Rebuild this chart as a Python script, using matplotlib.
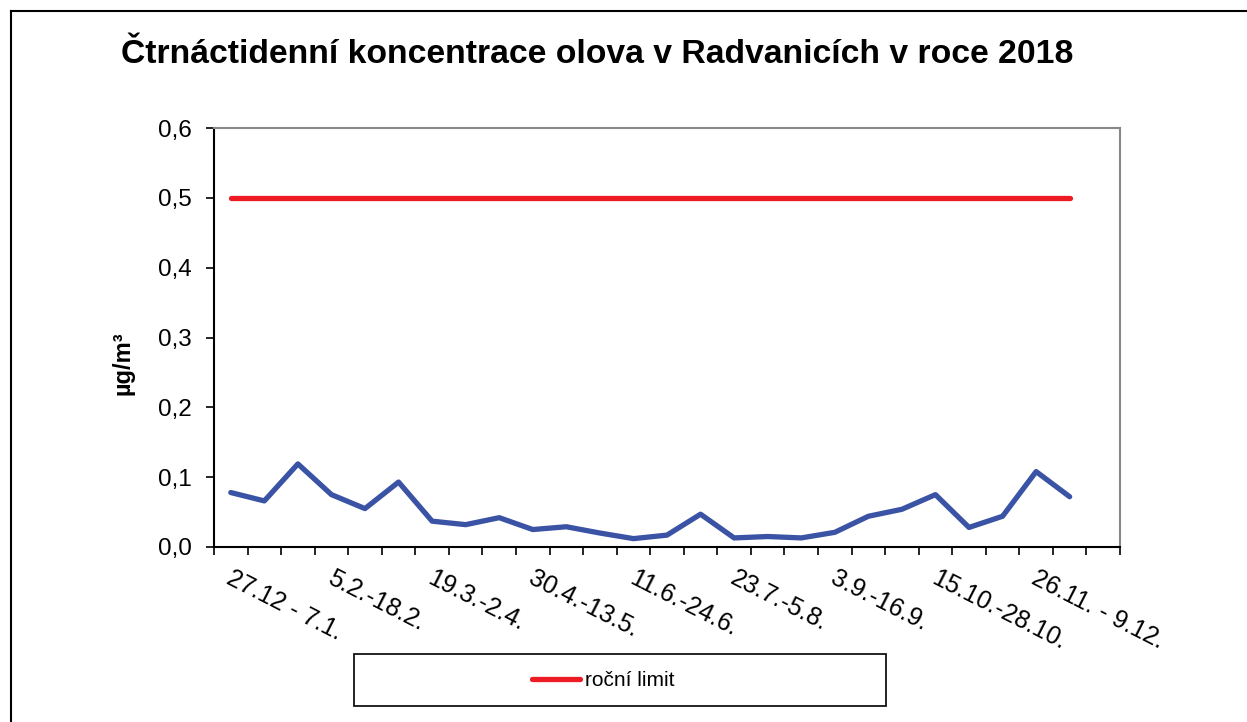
import matplotlib

matplotlib.use("Agg")
import matplotlib.pyplot as plt
from matplotlib.lines import Line2D
from matplotlib.patches import Rectangle
from matplotlib.ticker import FixedLocator, FuncFormatter
import matplotlib.transforms as mtransforms

plt.rcParams["font.family"] = ["Liberation Sans", "DejaVu Sans"]

# fourteen-day lead concentrations, ug/m3 (26 periods, 27 category slots on the axis)
lead = [0.078, 0.066, 0.119, 0.075, 0.055, 0.093, 0.037, 0.032, 0.042, 0.025,
        0.029, 0.020, 0.012, 0.017, 0.047, 0.013, 0.015, 0.013, 0.021, 0.044,
        0.054, 0.075, 0.028, 0.044, 0.108, 0.072]
limit = [0.5] * len(lead)
n_slots = 27
period_labels = ["27.12 - 7.1.", "5.2.-18.2.", "19.3.-2.4.", "30.4.-13.5.", "11.6.-24.6.",
                 "23.7.-5.8.", "3.9.-16.9.", "15.10.-28.10.", "26.11. - 9.12."]
label_every = 3

W, H, DPI = 1247, 722, 100
PX = 72 / DPI  # points per pixel
fig = plt.figure(figsize=(W / DPI, H / DPI), dpi=DPI)
ax = fig.add_axes([214 / W, 1 - 547 / H, (1120 - 214) / W, (547 - 128) / H])

x = list(range(len(lead)))
ax.plot(x, limit, color="#ED1C24", linewidth=3.8, solid_capstyle="round", label="roční limit")
ax.plot(x, lead, color="#3A53A4", linewidth=3.8, solid_capstyle="round")

ax.set_xlim(-0.5, n_slots - 0.5)
ax.set_ylim(0, 0.6)
ax.set_yticks([0, 0.1, 0.2, 0.3, 0.4, 0.5, 0.6])
ax.yaxis.set_major_formatter(FuncFormatter(lambda v, _: f"{v:.1f}".replace(".", ",")))

# category boundaries get the tick marks, labelled slots get text only
ax.xaxis.set_major_locator(FixedLocator([i - 0.5 for i in range(n_slots + 1)]))
ax.xaxis.set_major_formatter(FuncFormatter(lambda v, _: ""))
ax.set_xticks(list(range(0, n_slots, label_every)), period_labels, minor=True)
ax.tick_params(axis="x", which="major", direction="out", length=8 * PX, width=1.2, color="black")
ax.tick_params(axis="x", which="minor", length=0, pad=19 * PX, labelsize=18)
ax.tick_params(axis="y", direction="out", length=8 * PX, width=1.2, labelsize=17.5,
               pad=14 * PX)

offset = mtransforms.ScaledTranslation(3 / DPI, 0, fig.dpi_scale_trans)
for lab in ax.get_xticklabels(minor=True):
    lab.set_rotation(-27)
    lab.set_rotation_mode("anchor")
    lab.set_ha("left")
    lab.set_va("top")
    lab.set_transform(lab.get_transform() + offset)

for side in ("top", "right"):
    ax.spines[side].set_color("#888888")
    ax.spines[side].set_linewidth(1.5)
for side in ("left", "bottom"):
    ax.spines[side].set_color("black")
    ax.spines[side].set_linewidth(1.5)

ax.set_ylabel("µg/m³", fontsize=17, fontweight="bold")
ax.yaxis.set_label_coords((123 - 214) / (1120 - 214), (547 - 363) / (547 - 128))
ax.yaxis.label.set_verticalalignment("center")

fig.text(597 / W, 1 - 63 / H, "Čtrnáctidenní koncentrace olova v Radvanicích v roce 2018",
         ha="center", va="baseline", fontsize=24.3, fontweight="bold")

# legend box (only the limit line is listed)
fig.patches.append(Rectangle((354 / W, 1 - 706 / H), (886 - 354) / W, (706 - 654) / H,
                             transform=fig.transFigure, fill=False, edgecolor="black",
                             linewidth=1.2))
fig.legend(*ax.get_legend_handles_labels(), loc="center left",
           bbox_to_anchor=(532 / W, 1 - 681 / H), frameon=False, fontsize=15,
           handlelength=2.3, handletextpad=0.25, borderpad=0, borderaxespad=0)

# outer chart border (top and left edges visible)
fig.add_artist(Line2D([11 / W, 11 / W], [0, 1 - 11 / H], color="black", linewidth=1.5))
fig.add_artist(Line2D([11 / W, 1], [1 - 11 / H, 1 - 11 / H], color="black", linewidth=1.5))

fig.savefig("out.png", dpi=DPI)
